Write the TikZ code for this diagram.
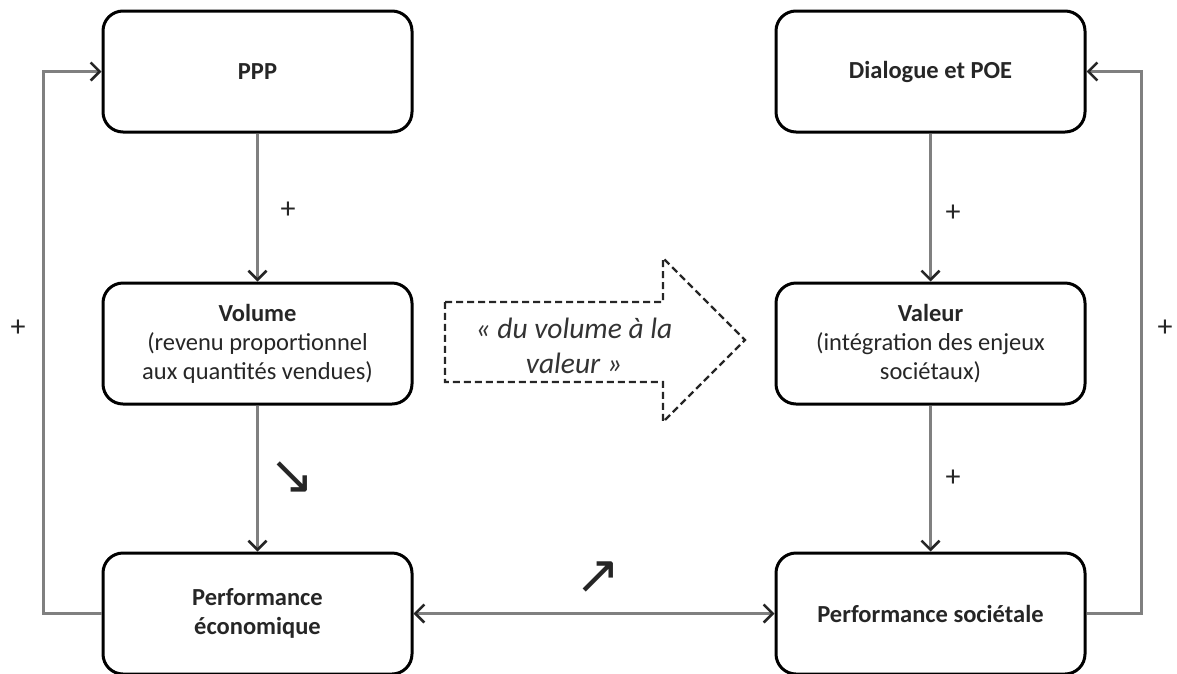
\documentclass[tikz,border=0pt]{standalone}
\usepackage{fontspec}
\setmainfont{Carlito}
\newfontfamily\symfont{DejaVu Sans}
\usetikzlibrary{arrows.meta, positioning}

\begin{document}
\begin{tikzpicture}[
  x=1pt, y=-1pt,
  >={Straight Barb[length=9pt, width=18pt, line width=2.6pt, color=black!85]},
  block/.style={draw, line width=3pt, rounded corners=20pt, minimum width=309pt,
    minimum height=121pt, align=center, text=black!85,
    font=\fontsize{24.5}{29}\selectfont},
  link/.style={->, line width=2.4pt, draw=black!50},
  sign/.style={font=\fontsize{30}{30}\selectfont, text=black!85},
  glyph/.style={font=\symfont\fontsize{54}{54}\selectfont, text=black!85},
  motto/.style={align=center, text=black!80, font=\itshape\fontsize{29.5}{35}\selectfont},
]
  \useasboundingbox (0,0) rectangle (1177,673);

  \node[block] (ppp) at (257.5,71.5) {\textbf{PPP}};
  \node[block, below=148pt of ppp] (volume)
    {\textbf{Volume}\\(revenu proportionnel\\aux quantités vendues)};
  \node[block, below=146pt of volume] (perfeco) {\textbf{Performance}\\\textbf{économique}};
  \node[block, right=361pt of ppp] (dialogue) {\textbf{Dialogue et POE}};
  \node[block, right=361pt of volume] (valeur)
    {\textbf{Valeur}\\(intégration des enjeux\\sociétaux)};
  \node[block, right=361pt of perfeco] (perfsoc) {\textbf{Performance sociétale}};

  \draw[link] (ppp) -- (volume);
  \draw[link] (volume) -- (perfeco);
  \draw[link] (dialogue) -- (valeur);
  \draw[link] (valeur) -- (perfsoc);
  \draw[link, <->] (perfeco) -- (perfsoc);
  \draw[link] (perfeco.west) -- ++(-58,0) |- (ppp.west);
  \draw[link] (perfsoc.east) -- ++(55,0) |- (dialogue.east);

  \foreach \px/\py [count=\i] in {288/210, 953/213, 953/478, 18/328, 1165/328}
    \node[sign] (plus\i) at (\px,\py) {+};

  \node[glyph] (down) at (292,478) {↘};
  \node[glyph] (up) at (598,578) {↗};

  % shift from volume to value
  \draw[dashed, line width=2.2pt, dash pattern=on 7pt off 4pt, draw=black!85]
    (445,302) -- (663,302) -- (663,258) -- (745,340) -- (663,422) -- (663,382)
    -- (445,382) -- cycle;
  \node[motto] (motto) at (574,346) {« du volume à la\\valeur »};
\end{tikzpicture}
\end{document}
